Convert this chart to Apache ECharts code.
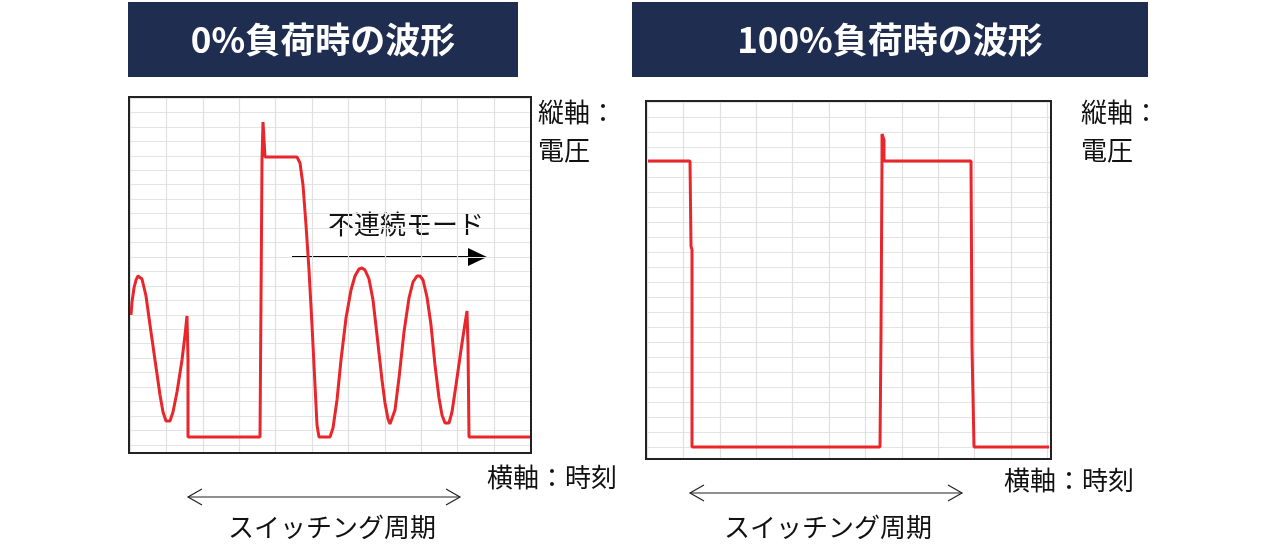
<!DOCTYPE html><html><head><meta charset="utf-8">
<script src="https://cdn.jsdelivr.net/npm/echarts@6/dist/echarts.min.js"></script>
<style>html,body{margin:0;background:#fff}#c{width:1284px;height:544px}</style></head><body><div id="c"></div>
<script>
const titles = ['0%負荷時の波形', '100%負荷時の波形'];
const modeLabel = '不連続モード';
const periodLabel = 'スイッチング周期';
const yLabel = '縦軸：\n電圧';
const xLabel = '横軸：時刻';
// waveform at 0% load (time, voltage) — estimated
const wave0 = [[131,315],[132,302],[134,288],[136,280],[138,276],[140,276],[142,279],[146,296],[150,325],[155,360],[160,395],[163,412],[166,421],[168,423],[170,421],[173,412],[177,392],[182,360],[185,335],[187,316],[188,360],[188,437],[260,437],[261,300],[262,160],[263,160],[263,122],[265,124],[265,157],[297,157],[300,163],[303,185],[306,225],[309,270],[312,325],[315,385],[317,425],[319,437],[330,437],[333,428],[337,400],[341,360],[346,318],[351,290],[355,276],[359,269],[362,268],[365,270],[369,279],[373,300],[377,335],[382,380],[385,403],[388,419],[390,424],[392,422],[395,410],[399,378],[404,332],[409,298],[413,282],[417,276],[420,276],[423,280],[427,297],[431,325],[435,365],[439,398],[442,415],[445,423],[447,425],[449,423],[452,412],[456,385],[461,350],[464,330],[467,311],[468,345],[469,437],[530,437]];
// waveform at 100% load
const wave100 = [[648,161],[690,161],[691,246],[692,250],[692,447],[880,447],[881,334],[882,160],[882,134],[884,140],[884,161],[971,161],[972,347],[974,349],[974,447],[1049,447]];
const chart = echarts.init(document.getElementById('c'));
const font = '"Noto Sans CJK JP", sans-serif';
function xa(i,min,max){return {gridIndex:i,type:'value',min,max,interval:36.4,axisLine:{show:false},axisTick:{show:false},axisLabel:{show:false},splitLine:{show:true,lineStyle:{color:'#e0e0e0',width:1.2}}};}
function ya(i,min,max,iv){return {gridIndex:i,type:'value',inverse:true,min,max,interval:iv,axisLine:{show:false},axisTick:{show:false},axisLabel:{show:false},splitLine:{show:true,lineStyle:{color:'#e3e3e3',width:1.2}}};}
function txt(x,y,t,s){return {type:'text',left:x,top:y,style:{text:t,font:(s.w||'normal')+' '+s.size+'px '+font,fill:s.fill||'#111',lineHeight:s.lh||s.size*1.5}};}
function dbl(x1,x2,y){return [{type:'polyline',shape:{points:[[x1,y],[x2,y]]},style:{stroke:'#222',lineWidth:1.2}},{type:'polyline',shape:{points:[[x1+14,y-8],[x1,y],[x1+14,y+8]]},style:{stroke:'#222',fill:null,lineWidth:1.2}},{type:'polyline',shape:{points:[[x2-14,y-8],[x2,y],[x2-14,y+8]]},style:{stroke:'#222',fill:null,lineWidth:1.2}}];}
chart.setOption({
 animation:false,
 grid:[{left:130,top:98,width:400,height:354,show:true,borderColor:'#222',borderWidth:0,backgroundColor:'#fff'},
       {left:647,top:102,width:403,height:356,show:true,borderColor:'#222',borderWidth:0,backgroundColor:'#fff'}],
 xAxis:[xa(0,130,530),xa(1,647,1050)],
 yAxis:[ya(0,98,452,14.45),ya(1,102,458,15)],
 series:[
  {type:'line',xAxisIndex:0,yAxisIndex:0,data:wave0,showSymbol:false,lineStyle:{color:'#e8262b',width:3},z:5},
  {type:'line',xAxisIndex:1,yAxisIndex:1,data:wave100,showSymbol:false,lineStyle:{color:'#e8262b',width:3},z:5}
 ],
 graphic:[
  {type:'rect',shape:{x:129,y:97,width:402,height:356},style:{fill:null,stroke:'#222',lineWidth:2},z:10},
  {type:'rect',shape:{x:646,y:101,width:405,height:358},style:{fill:null,stroke:'#222',lineWidth:2},z:10},
  {type:'rect',shape:{x:128,y:2,width:390,height:75},style:{fill:'#1f2d50'}},
  {type:'rect',shape:{x:632,y:2,width:516,height:75},style:{fill:'#1f2d50'}},
  {type:'text',x:323,y:40,style:{text:titles[0],font:'bold 35px '+font,fill:'#fff',align:'center',verticalAlign:'middle'}},
  {type:'text',x:890,y:40,style:{text:titles[1],font:'bold 35px '+font,fill:'#fff',align:'center',verticalAlign:'middle'}},
  txt(538,93,yLabel,{size:26,lh:38}),
  txt(1081,93,yLabel,{size:26,lh:38}),
  txt(487,458,xLabel,{size:26}),
  txt(1004,461,xLabel,{size:26}),
  txt(328,205,modeLabel,{size:26}),
  {type:'polyline',shape:{points:[[292,257],[470,257]]},style:{stroke:'#000',lineWidth:2}},
  {type:'polygon',shape:{points:[[468,248],[487,257],[468,266]]},style:{fill:'#000'}},
  ...dbl(188,460,497),
  ...dbl(690,962,493),
  {type:'text',x:332,y:527,style:{text:periodLabel,font:'26px '+font,fill:'#111',align:'center',verticalAlign:'middle'}},
  {type:'text',x:828,y:527,style:{text:periodLabel,font:'26px '+font,fill:'#111',align:'center',verticalAlign:'middle'}}
 ]
});
</script></body></html>
